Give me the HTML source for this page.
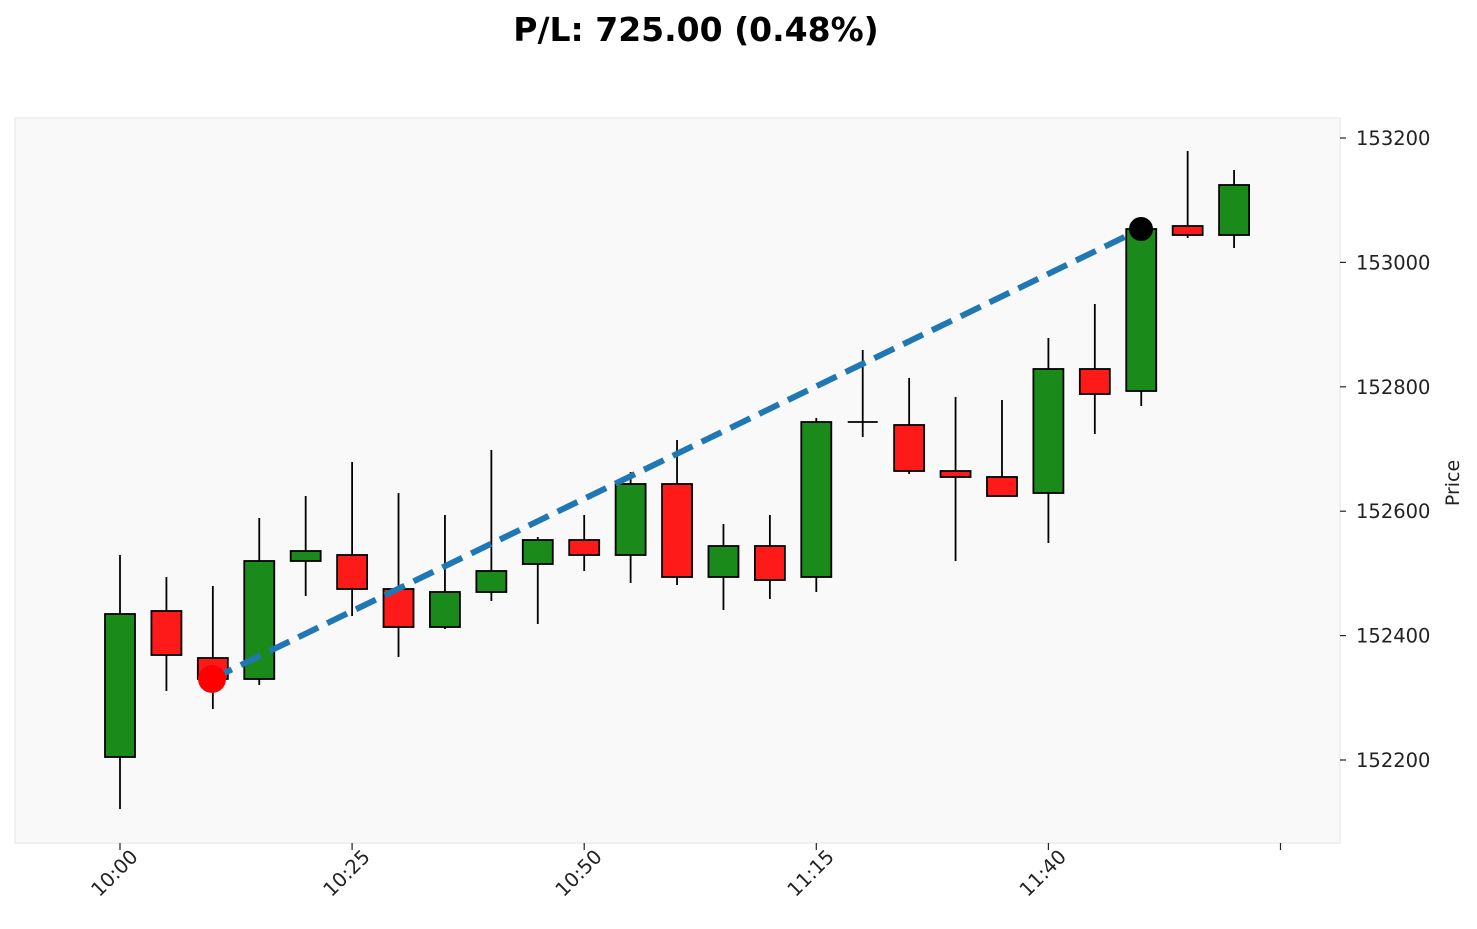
<!DOCTYPE html><html><head><meta charset="utf-8"><style>body{margin:0;background:#fff}svg{display:block}text{font-family:"DejaVu Sans","Liberation Sans",sans-serif;fill:#222}</style></head><body>
<svg id="s" width="1477" height="929" xmlns="http://www.w3.org/2000/svg">
<text x="696" y="41" text-anchor="middle" font-size="33" font-weight="bold" style="fill:#000">P/L: 725.00 (0.48%)</text>
<rect x="15" y="118" width="1325" height="725" fill="#f9f9f9" stroke="#ececec" stroke-width="1.5"/>
<g id="c"></g>
<line x1="212" y1="679" x2="1141" y2="229" stroke="#1f77b4" stroke-width="6" stroke-dasharray="22,10"/>
<circle cx="212" cy="679" r="14" fill="#ff0000"/>
<circle cx="1141" cy="229" r="12" fill="#000"/>
<text transform="translate(1459,483) rotate(-90)" text-anchor="middle" font-size="19">Price</text>
</svg>
<script>
var d=[["g",614,757,555,809],["r",611,655,577,691],["r",658,679,586,709],["g",561,679,518,685],["g",551,561,496,596],["r",555,589,462,616],["r",589,627,493,657],["g",592,627,515,629],["g",571,592,450,601],["g",540,564,537,624],["r",540,555,515,571],["g",484,555,472,583],["r",484,577,440,585],["g",546,577,524,610],["r",546,580,515,599],["g",422,577,418,592],["d",422,422,350,437],["r",425,471,378,474],["r",471,477,397,561],["r",477,496,400,496],["g",369,493,338,543],["r",369,394,304,434],["g",229,391,229,406],["r",226,235,151,238],["g",185,235,170,248]];
var h="";d.forEach(function(c,i){var x=120+i*46.42;
h+='<line x1="'+x+'" y1="'+c[3]+'" x2="'+x+'" y2="'+c[4]+'" stroke="#000" stroke-width="1.8"/>';
if(c[0]=="d")h+='<line x1="'+(x-15)+'" y1="'+c[1]+'" x2="'+(x+15)+'" y2="'+c[1]+'" stroke="#000" stroke-width="1.8"/>';
else h+='<rect x="'+(x-15)+'" y="'+c[1]+'" width="30" height="'+(c[2]-c[1])+'" fill="'+(c[0]=="g"?"#1a8a1a":"#ff1a1a")+'" stroke="#000" stroke-width="1.8"/>';});
[153200,153000,152800,152600,152400,152200].forEach(function(v){var y=760-(v-152200)*0.622;
h+='<line x1="1340" y1="'+y+'" x2="1346" y2="'+y+'" stroke="#222" stroke-width="1.2"/><text x="1356" y="'+(y+7)+'" font-size="19.5">'+v+'</text>';});
["10:00","10:25","10:50","11:15","11:40",""].forEach(function(t,i){var x=120+i*232.1;
h+='<line x1="'+x+'" y1="843" x2="'+x+'" y2="850" stroke="#222" stroke-width="1.2"/>';
if(t)h+='<text transform="translate('+(x+19)+',858) rotate(-45)" text-anchor="end" font-size="19.5">'+t+'</text>';});
document.getElementById("c").innerHTML=h;
</script></body></html>
